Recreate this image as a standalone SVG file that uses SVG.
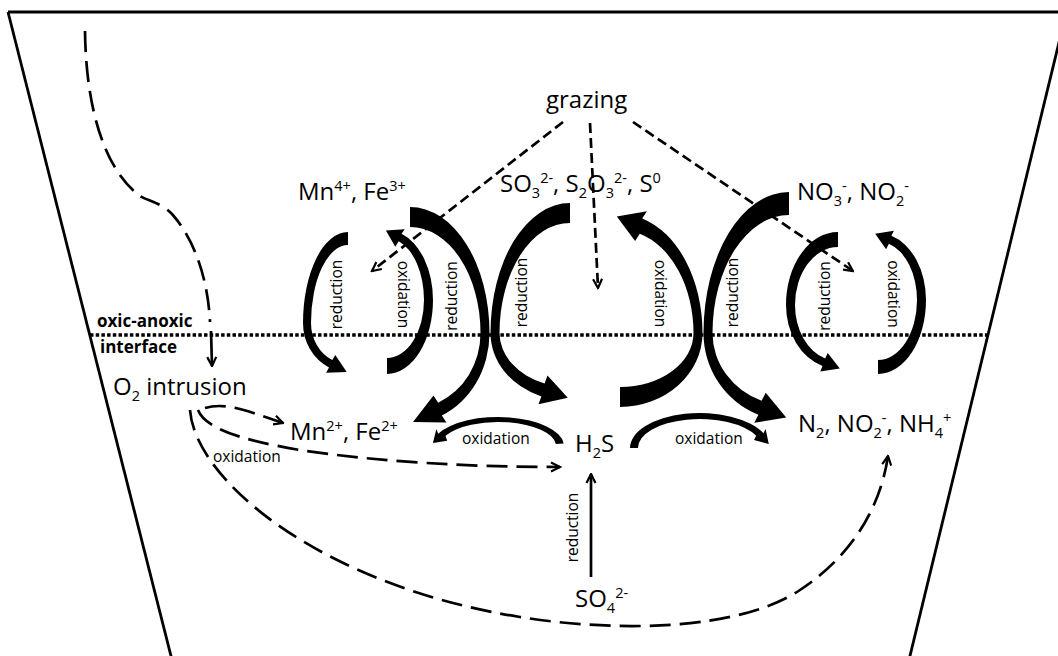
<svg xmlns="http://www.w3.org/2000/svg" width="1058" height="656" viewBox="0 0 1058 656">
  <style>
    .lbl { font-family: "Open Sans", "Noto Sans", sans-serif; font-size: 24px; fill: #000; }
    .s { font-size: 14.5px; }
    .sm { font-family: "Open Sans", "Noto Sans", sans-serif; font-size: 15.5px; fill: #000; }
    .bold { font-family: "Open Sans", "Noto Sans", sans-serif; font-size: 17px; font-weight: bold; fill: #000; }
    .arc { fill: #000; stroke: none; }
    .frame { fill: none; stroke: #000; stroke-width: 2.8; }
    .dotted { fill: none; stroke: #000; stroke-width: 3.5; stroke-dasharray: 3.5 2.2; }
    .dlong { fill: none; stroke: #000; stroke-width: 2.7; stroke-dasharray: 21 9; }
    .dshort { fill: none; stroke: #000; stroke-width: 2.7; stroke-dasharray: 10 5; }
    .solid { fill: none; stroke: #000; stroke-width: 2.7; }
  </style>
  <defs>
    <marker id="vee" viewBox="0 0 12 12" refX="10.5" refY="6" markerWidth="12" markerHeight="12" markerUnits="userSpaceOnUse" orient="auto">
      <path d="M1.5,1.5 L10.5,6 L1.5,10.5" fill="none" stroke="#000" stroke-width="2.2" stroke-dasharray="none"/>
    </marker>
  </defs>

  <rect width="1058" height="656" fill="#fff"/>

  <!-- basin outline and the interface level -->
  <g id="basin">
    <path class="frame" d="M8,12 L1058,12"/>
    <path class="frame" d="M8,12 L172,660"/>
    <path class="frame" d="M1062,30 L909,660"/>
    <path class="dotted" d="M90,335 L987,335"/>
  </g>

  <g id="connectors">
    <!-- Mn/Fe cycle -->
    <path id="mn-reduction" class="arc" d="M348,232 A45,91 0 0 0 303,323 A45,49 0 0 0 329,367.4 L326.1,372.7 L346.7,372 L335.3,354.9 L332.3,360.1 A37,41 0 0 1 311,323 A37,78 0 0 1 348,245 Z"/>
    <path id="mn-oxidation" class="arc" d="M387,374 A46,74 0 0 0 433,300 A46,70 0 0 0 401.6,233.7 L404.7,229.2 L385.9,230.5 L395.3,246.8 L398.7,241.2 A37,62 0 0 1 424,300 A37,58 0 0 1 387,358 Z"/>
    <!-- crossing pair: Mn4+/Fe3+ and sulfur intermediates -->
    <path id="mnfe-big-reduction" class="arc" d="M410,207 A79.5,126 0 0 1 489.5,333 A79.5,90 0 0 1 441.8,415.5 L446.5,422.5 L413,422 L433.5,395.5 L438.2,402.7 A70.5,76 0 0 0 480.5,333 A70.5,106 0 0 0 410,227 Z"/>
    <path id="s-reduction" class="arc" d="M570,203 A79.5,130 0 0 0 490.5,333 A79.5,68 0 0 0 541.4,396.4 L538.5,404.2 L567.8,397.7 L547.5,375.6 L544.6,383.4 A70.5,54 0 0 1 499.5,333 A70.5,110 0 0 1 570,223 Z"/>
    <!-- crossing pair: sulfide oxidation and nitrate reduction -->
    <path id="s-oxidation" class="arc" d="M620,407 A82.5,74 0 0 0 702.5,333 A82.5,119 0 0 0 642.2,218.4 L646.9,211.2 L616.8,216.5 L635.1,241 L639.8,233.8 A73.5,103 0 0 1 693.5,333 A73.5,54 0 0 1 620,387 Z"/>
    <path id="n-big-reduction" class="arc" d="M789,192 A85.5,141 0 0 0 703.5,333 A85.5,87.5 0 0 0 758.4,414.7 L754.3,422.7 L786.2,417.6 L765.7,392.7 L761.6,400.7 A76.5,72.5 0 0 1 712.5,333 A76.5,118 0 0 1 789,215 Z"/>
    <!-- N cycle -->
    <path id="n-reduction" class="arc" d="M838,232 A52,73 0 0 0 786,305 A52,64 0 0 0 822.5,366.1 L820.3,371.6 L839.8,368.6 L827.7,353 L825.2,358.5 A43,56 0 0 1 795,305 A43,58 0 0 1 838,247 Z"/>
    <path id="n-oxidation" class="arc" d="M878,374 A48,74 0 0 0 926,300 A48,67 0 0 0 891.4,235.8 L893.9,230.8 L875.2,233.8 L886.1,249.2 L888.9,243.8 A39,58.5 0 0 1 917,300 A39,60 0 0 1 878,360 Z"/>
    <!-- sulfide oxidation arcs below -->
    <path id="h2s-mn-oxidation" class="arc" d="M563.7,443.5 A66,29 0 0 0 438.2,433.7 L436.4,428.9 L432.9,442.9 L447.2,440.7 L445.5,435.8 A58,24 0 0 1 555.8,443.9 Z"/>
    <path id="h2s-n-oxidation" class="arc" d="M630,448 A70,35 0 0 1 763.4,433.2 L765.6,429 L768.8,443.9 L754,440.1 L756.2,435.7 A62,29 0 0 0 638,448 Z"/>

    <!-- sulfate reduction -->
    <path class="solid" d="M591,577 L591,474" marker-end="url(#vee)"/>

    <!-- grazing -->
    <path class="dshort" d="M563,122 L372,271" marker-end="url(#vee)"/>
    <path class="dshort" d="M590,123 L598,288" marker-end="url(#vee)"/>
    <path class="dshort" d="M633,122 L853,271" marker-end="url(#vee)"/>

    <!-- oxygen intrusion -->
    <path class="dlong" d="M85,31 C86,110 105,170 140,196 C148,201 160,202 172,214 C195,240 208,280 210,322"/>
    <path class="solid" d="M211,331 L212,366" marker-end="url(#vee)"/>
    <path class="dlong" d="M205,408 C225,402 245,410 283,423" marker-end="url(#vee)"/>
    <path class="dlong" d="M198,410 C205,428 240,440 300,450 C380,462 470,467 560,467" marker-end="url(#vee)"/>
    <path class="dlong" d="M190,410 C195,480 320,585 520,617 C620,633 740,630 800,590 C850,557 880,510 888,456" marker-end="url(#vee)"/>
  </g>

  <!-- species -->
  <g id="grazing"><text class="lbl" x="546" y="108">grazing</text></g>
  <g id="mn4-fe3"><text class="lbl" x="298" y="200">Mn<tspan class="s" dy="-9">4+</tspan><tspan dy="9">, Fe</tspan><tspan class="s" dy="-9">3+</tspan></text></g>
  <g id="s-intermediates"><text class="lbl" x="500" y="192">SO<tspan class="s" dy="6">3</tspan><tspan class="s" dy="-15">2-</tspan><tspan dy="9">, S</tspan><tspan class="s" dy="6">2</tspan><tspan dy="-6">O</tspan><tspan class="s" dy="6">3</tspan><tspan class="s" dy="-15">2-</tspan><tspan dy="9">, S</tspan><tspan class="s" dy="-9">0</tspan></text></g>
  <g id="no3-no2"><text class="lbl" x="797" y="200">NO<tspan class="s" dy="6">3</tspan><tspan class="s" dy="-15">-</tspan><tspan dy="9">, NO</tspan><tspan class="s" dy="6">2</tspan><tspan class="s" dy="-15">-</tspan></text></g>
  <g id="o2"><text class="lbl" x="113" y="395">O<tspan class="s" dy="6">2</tspan><tspan dy="-6"> intrusion</tspan></text></g>
  <g id="mn2-fe2"><text class="lbl" x="290" y="440">Mn<tspan class="s" dy="-9">2+</tspan><tspan dy="9">, Fe</tspan><tspan class="s" dy="-9">2+</tspan></text></g>
  <g id="h2s"><text class="lbl" x="575" y="452">H<tspan class="s" dy="6">2</tspan><tspan dy="-6">S</tspan></text></g>
  <g id="n-products"><text class="lbl" x="798" y="432">N<tspan class="s" dy="6">2</tspan><tspan dy="-6">, NO</tspan><tspan class="s" dy="6">2</tspan><tspan class="s" dy="-15">-</tspan><tspan dy="9">, NH</tspan><tspan class="s" dy="6">4</tspan><tspan class="s" dy="-15">+</tspan></text></g>
  <g id="so4"><text class="lbl" x="575" y="607">SO<tspan class="s" dy="6">4</tspan><tspan class="s" dy="-15">2-</tspan></text></g>
  <g id="interface"><text class="bold" x="97" y="327">oxic-anoxic</text><text class="bold" x="100" y="353">interface</text></g>

  <!-- process labels -->
  <g id="process-labels">
    <text class="sm" text-anchor="middle" transform="translate(342,294.5) rotate(-90)">reduction</text>
    <text class="sm" text-anchor="middle" transform="translate(398,294.5) rotate(90)">oxidation</text>
    <text class="sm" text-anchor="middle" transform="translate(457,296) rotate(-90)">reduction</text>
    <text class="sm" text-anchor="middle" transform="translate(527,292.5) rotate(-90)">reduction</text>
    <text class="sm" text-anchor="middle" transform="translate(655,293.5) rotate(90)">oxidation</text>
    <text class="sm" text-anchor="middle" transform="translate(738,292.5) rotate(-90)">reduction</text>
    <text class="sm" text-anchor="middle" transform="translate(830,296) rotate(-90)">reduction</text>
    <text class="sm" text-anchor="middle" transform="translate(888,294) rotate(90)">oxidation</text>
    <text class="sm" text-anchor="middle" transform="translate(578,527.5) rotate(-90)">reduction</text>
    <text class="sm" x="462" y="444">oxidation</text>
    <text class="sm" x="675" y="444">oxidation</text>
    <text class="sm" x="213" y="462">oxidation</text>
  </g>
</svg>
